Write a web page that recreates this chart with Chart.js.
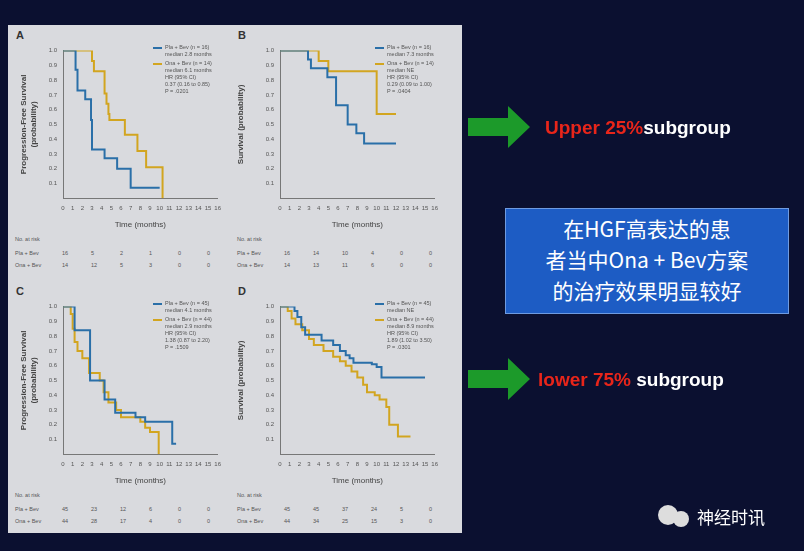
<!DOCTYPE html>
<html><head><meta charset="utf-8">
<script src="https://cdn.jsdelivr.net/npm/chart.js@4.4.1/dist/chart.umd.min.js"></script>
<style>
body{margin:0;width:804px;height:551px;background:#0b1030;position:relative;overflow:hidden;font-family:"Liberation Sans",Arial,sans-serif}
#panel{position:absolute;left:8px;top:25px;width:454px;height:508px;background:#d9dade}
.c{position:absolute}
.t{position:absolute;color:#555;font-size:5.5px;line-height:7px;white-space:pre}
.lt{position:absolute;font-weight:bold;font-size:11px;color:#333}
.big{position:absolute;font-weight:bold;font-size:19px;color:#fff;white-space:nowrap}
.big b{color:#e8251a}
#box{position:absolute;left:505px;top:208px;width:284px;height:106px;background:#1d5cc4;border:1px solid #6f9be0;color:#fff;font-size:21px;line-height:31px;text-align:center;font-family:"Noto Sans CJK SC";padding-top:4px;box-sizing:border-box}
</style></head><body>
<div id="panel"></div>
<canvas id="cA" class="c"></canvas><canvas id="cB" class="c"></canvas>
<canvas id="cC" class="c"></canvas><canvas id="cD" class="c"></canvas>
<div class="lt" style="left:16px;top:29px">A</div><div class="lt" style="left:238px;top:29px">B</div>
<div class="lt" style="left:16px;top:285px">C</div><div class="lt" style="left:238px;top:285px">D</div>
<div id="labels"></div>
<svg style="position:absolute;left:0;top:0" width="804" height="551">
<polygon points="468,118 508,118 508,106 530,127 508,148 508,136 468,136" fill="#1c9a2a"/>
<polygon points="468,370 508,370 508,358 530,379 508,400 508,388 468,388" fill="#1c9a2a"/>
<circle cx="668" cy="515" r="10" fill="#ddd"/><circle cx="681" cy="519" r="8" fill="#ddd"/>
</svg>
<div class="big" style="left:545px;top:117px"><b>Upper 25%</b>subgroup</div>
<div class="big" style="left:538px;top:369px"><b>lower 75%</b> subgroup</div>
<div id="box">在HGF高表达的患<br>者当中Ona + Bev方案<br>的治疗效果明显较好</div>
<div style="position:absolute;left:697px;top:504px;color:#fff;font-size:17px;font-family:'Noto Sans CJK SC'">神经时讯</div>
<script>
// step curves: [time, survival]
const aPla = [[0,1],[1.3,0.87],[1.5,0.73],[2.3,0.67],[2.9,0.53],[3,0.33],[4.3,0.27],[5.6,0.2],[7,0.07],[10,0.07]];
const aOna = [[0,1],[3,0.93],[3.2,0.86],[4.3,0.71],[4.5,0.64],[4.7,0.57],[4.8,0.53],[6.4,0.43],[7.7,0.32],[8.6,0.21],[10.3,0],[10.3,0]];
const bPla = [[0,1],[2.9,0.94],[3.2,0.88],[4.9,0.82],[5.8,0.63],[7,0.5],[7.9,0.44],[8.7,0.37],[12,0.37]];
const bOna = [[0,1],[4,0.93],[5,0.86],[10,0.57],[12,0.57]];
const cPla = [[0,1],[1.2,0.84],[2.8,0.5],[4.3,0.37],[5.4,0.28],[7.5,0.25],[8.5,0.22],[11.3,0.07],[11.7,0.07]];
const cOna = [[0,1],[0.8,0.95],[1,0.85],[1.2,0.76],[1.5,0.7],[2,0.65],[2.7,0.55],[3.8,0.5],[4.2,0.42],[4.7,0.35],[5.5,0.3],[6,0.25],[8,0.22],[8.5,0.18],[9,0.15],[9.9,0],[9.9,0]];
const dPla = [[0,1],[1.5,0.97],[1.8,0.93],[2.2,0.86],[2.6,0.81],[4.3,0.77],[5.5,0.74],[6.2,0.7],[6.8,0.67],[7.2,0.65],[7.6,0.62],[9.5,0.61],[10,0.59],[10.5,0.52],[15,0.52]];
const dOna = [[0,1],[0.8,0.97],[1.2,0.92],[1.6,0.88],[2.3,0.84],[3,0.78],[3.5,0.74],[4.5,0.7],[5.5,0.66],[6.2,0.63],[6.8,0.6],[7.4,0.56],[8,0.52],[8.6,0.47],[9,0.42],[9.8,0.4],[10.3,0.37],[11,0.32],[11.3,0.2],[12.2,0.12],[13.5,0.12]];
const xTicks = [0,1,2,3,4,5,6,7,8,9,10,11,12,13,14,15,16];
const riskA = [["Pla + Bev","16","5","2","1","0","0"],["Ona + Bev","14","12","5","3","0","0"]];
const riskB = [["Pla + Bev","16","14","10","4","0","0"],["Ona + Bev","14","13","11","6","0","0"]];
const riskC = [["Pla + Bev","45","23","12","6","0","0"],["Ona + Bev","44","28","17","4","0","0"]];
const riskD = [["Pla + Bev","45","45","37","24","5","0"],["Ona + Bev","44","34","25","15","3","0"]];
const legA = ["Pla + Bev (n = 16)\nmedian 2.8 months","Ona + Bev (n = 14)\nmedian 6.1 months\nHR (95% CI)\n0.37 (0.16 to 0.85)\nP = .0201"];
const legB = ["Pla + Bev (n = 16)\nmedian 7.3 months","Ona + Bev (n = 14)\nmedian NE\nHR (95% CI)\n0.29 (0.09 to 1.00)\nP = .0404"];
const legC = ["Pla + Bev (n = 45)\nmedian 4.1 months","Ona + Bev (n = 44)\nmedian 2.9 months\nHR (95% CI)\n1.38 (0.87 to 2.20)\nP = .1509"];
const legD = ["Pla + Bev (n = 45)\nmedian NE","Ona + Bev (n = 44)\nmedian 8.9 months\nHR (95% CI)\n1.89 (1.02 to 3.50)\nP = .0301"];

const BLUE = "#2a6fa8", YEL = "#d2a520";
const pts = a => a.map(p => ({x:p[0], y:p[1]}));

function km(id, left, top, yTitle, pla, ona) {
  const cv = document.getElementById(id);
  cv.style.left = left + "px"; cv.style.top = top + "px";
  cv.width = 206; cv.height = 190;
  new Chart(cv, {
    type: "line",
    data: { datasets: [
      {data: pts(pla), borderColor: BLUE, borderWidth: 2, stepped: "before", pointRadius: 0},
      {data: pts(ona), borderColor: YEL, borderWidth: 2, stepped: "before", pointRadius: 0}
    ]},
    options: {
      responsive: false, animation: false, events: [],
      layout: {padding: {top: 4, right: 4}},
      plugins: {legend: {display: false}, tooltip: {enabled: false}},
      scales: {
        x: {type: "linear", min: 0, max: 16, grid: {display: false, tickLength: 3}, border: {color: "#777"},
            afterBuildTicks: s => { s.ticks = xTicks.map(v => ({value: v})); },
            ticks: {color: "#555", font: {size: 6}, padding: 4, maxRotation: 0},
            title: {display: true, text: "Time (months)", color: "#444", font: {size: 8}}},
        y: {min: 0, max: 1, grid: {display: false, tickLength: 3}, border: {color: "#777"},
            ticks: {stepSize: 0.1, color: "#555", font: {size: 6}, callback: v => v === 0 ? "" : v.toFixed(1)},
            title: {display: true, text: yTitle, color: "#444", font: {size: 8, weight: "bold"}, padding: 0},
            afterFit: s => { s.width = 44; }}
      }
    }
  });
}
km("cA", 19, 44, ["Progression-Free Survival","(probability)"], aPla, aOna);
km("cB", 236, 44, "Survival (probability)", bPla, bOna);
km("cC", 19, 300, ["Progression-Free Survival","(probability)"], cPla, cOna);
km("cD", 236, 300, "Survival (probability)", dPla, dOna);

const L = document.getElementById("labels");
function txt(x, y, s, st) { const d = document.createElement("div"); d.className = "t"; d.style.left = x + "px"; d.style.top = y + "px"; d.textContent = s; if (st) d.style.cssText += st; L.appendChild(d); }
function extras(px, py, leg, risk) {
  txt(px + 138, py + 17, "", "width:9px;height:2px;background:" + BLUE);
  txt(px + 150, py + 14, leg[0]);
  txt(px + 138, py + 33, "", "width:9px;height:2px;background:" + YEL);
  txt(px + 150, py + 30, leg[1]);
  txt(px, py + 206, "No. at risk");
  risk.forEach((r, i) => {
    txt(px, py + 220 + i * 12, r[0]);
    r.slice(1).forEach((v, j) => txt(px + 47 + j * 29, py + 220 + i * 12, v));
  });
}
extras(15, 30, legA, riskA);
extras(237, 30, legB, riskB);
extras(15, 286, legC, riskC);
extras(237, 286, legD, riskD);
</script>
</body></html>
